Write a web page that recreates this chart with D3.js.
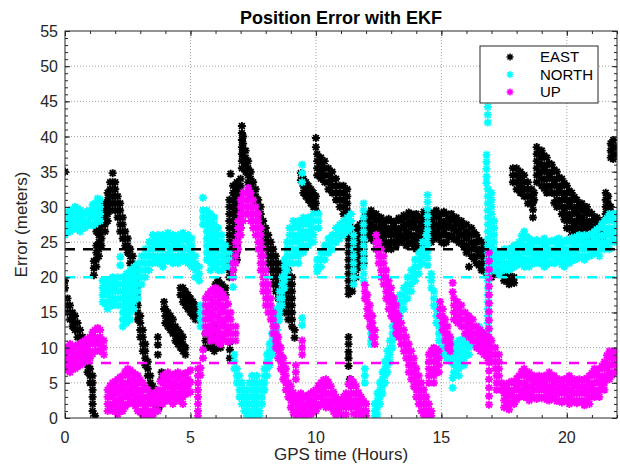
<!DOCTYPE html>
<html>
<head>
<meta charset="utf-8">
<script src="https://cdn.jsdelivr.net/npm/d3@7"></script>
<style>
  html, body { margin: 0; padding: 0; background: #ffffff; overflow: hidden; }
  svg { display: block; font-family: "Liberation Sans", Arial, sans-serif; }
</style>
</head>
<body>
<div id="chart"></div>
<script>
// Position error samples.
// Each row is [GPS hour, error, error, ...]: every error value gets one marker.
var eastRows = [
  [0.0, 35], [0.0, 19.5, 18.5], [0.1, 17, 16, 15], [0.2, 16, 15, 14], [0.3, 15, 14, 13],
  [0.4, 14.5, 13.5, 12.5], [0.5, 13.5, 12.5, 11.5], [0.6, 12.5, 11.5, 10.5], [0.7, 11.5, 10.5, 9.5],
  [0.8, 10.5, 9.5, 8.5], [0.9, 8.5, 7.5, 6.5], [1.0, 7, 6, 5], [1.1, 6, 5, 4, 3, 2, 1], [1.2, 0.3],
  [1.15, 20.3, 21.3, 22.3], [1.25, 21.5, 22.5, 23.5, 24.5, 26.5], [1.35, 23, 24, 25, 26, 27],
  [1.45, 24.5, 25.5, 26.5, 27.5], [1.6, 26.5, 27.5, 28.5, 29.5, 30.5], [1.7, 28, 29, 30, 31, 32],
  [1.8, 29.5, 30.5, 31.5, 32.5, 33.5], [1.9, 30.5, 31.5, 32.5, 33.5, 34.8], [2.0, 29.5, 30.5, 31.5, 32.5, 33.5],
  [2.1, 28.5, 29.5, 30.5, 31.5], [2.2, 26.5, 27.5, 28.5, 29.5, 30.5], [2.3, 25.5, 26.5, 27.5, 28.5],
  [2.4, 24.5, 25.5, 26.5], [2.5, 23.5, 24.5, 25.5], [2.6, 22, 23, 24], [2.7, 21, 22, 23],
  [2.8, 19.5, 20.5, 21.5], [2.85, 16.5, 17.5, 18.5], [2.9, 14, 15, 16], [3.0, 11.5, 12.5, 13.5, 14.5],
  [3.1, 9.5, 10.5, 11.5, 12.5], [3.2, 7.5, 8.5, 9.5, 10.5], [3.3, 6, 7, 8], [3.4, 4, 5, 6],
  [3.5, 2.5, 3.5, 4.5], [3.6, 1, 2, 3], [3.7, 11.5, 10.4, 9], [3.75, 1.5], [3.85, 6.5, 5.5], [4.0, 5.5],
  [3.95, 15.5, 16.5], [4.0, 13.5, 14.5, 15.5], [4.1, 13, 14, 15], [4.2, 12.5, 13.5, 14.5], [4.3, 12, 13, 14],
  [4.4, 11, 12, 13], [4.5, 10.5, 11.5, 12.5], [4.6, 10, 11, 12], [4.7, 9.5, 10.5, 11.5], [4.8, 9, 10],
  [4.6, 17.5, 18.5], [4.7, 16.5, 17.5, 18.5], [4.8, 16, 17, 18], [4.9, 15.5, 16.5, 17.5], [5.0, 15, 16, 17],
  [5.1, 14.5, 15.5, 16.5], [5.2, 14, 15, 16], [5.3, 14, 15],
  [5.6, 12, 11, 10], [5.8, 13, 12, 11, 10], [5.95, 13, 12, 11, 10, 9.5], [6.1, 12, 11, 10], [6.2, 11, 10],
  [6.0, 19, 18], [6.1, 19.6, 18.5], [6.25, 19, 18, 17.5], [6.4, 18.5, 17.5], [6.57, 10.8, 9.7, 8.5],
  [6.55, 31, 30, 29, 28, 27, 26, 25, 24, 23, 22, 21, 20], [6.6, 34.7],
  [6.7, 33, 32, 31, 30, 29, 28, 27, 26, 25, 24, 23, 22, 21],
  [6.85, 33.5, 32.5, 31.5, 30.5, 29.5, 28.5, 27.5, 26.5, 25.5, 24.5, 23.5, 22.5],
  [7.0, 34, 33, 32, 31, 30, 29, 28, 27], [7.05, 41.5, 40.5, 39.5, 38.5, 37.5, 36.5, 35.5],
  [7.1, 40, 39, 38, 37], [7.2, 38, 37, 36, 35], [7.3, 36.5, 35.5, 34.5, 33.5], [7.4, 35, 34, 33, 32],
  [7.5, 33.5, 32.5, 31.5], [7.6, 32.5, 31.5, 30.5], [7.7, 31, 30, 29], [7.8, 30, 29, 28],
  [7.9, 28, 27, 26, 25], [8.0, 27, 26, 25, 24], [8.1, 26, 25, 24, 23, 22], [8.2, 25, 24, 23, 22, 21],
  [8.3, 24, 23, 22, 21, 20, 19], [8.4, 23, 22, 21, 20, 19, 18], [8.5, 22, 21, 20, 19, 18, 17],
  [8.6, 21, 20, 19, 18, 17, 16], [8.75, 22, 21, 20, 19, 18, 17, 16, 15], [8.9, 21, 20, 19, 18, 17, 16, 15, 14],
  [9.05, 20, 19, 18, 17, 16, 15, 14, 13], [9.15, 12.5, 11.4],
  [9.4, 34.8, 33.8], [9.5, 34, 33, 32], [9.6, 33.5, 32.5, 31.5], [9.7, 33, 32, 31], [9.8, 32.5, 31.5, 30.5],
  [9.9, 32, 31, 30], [10.0, 31.5, 30.5, 29.5], [10.0, 39.8, 38.5],
  [10.05, 37.5, 36.5, 35.5, 34.5], [10.2, 37, 36, 35, 34], [10.35, 36.5, 35.5, 34.5, 33.5],
  [10.5, 35.5, 34.5, 33.5, 32.5], [10.65, 35, 34, 33, 32], [10.8, 34, 33, 32, 31], [10.95, 33, 32, 31, 30],
  [11.1, 33, 32, 31, 30, 29], [11.25, 32.5, 31.5, 30.5, 29.5, 28.5],
  [11.3, 27.5, 26.5, 25.5, 24.5, 23.5, 22.5, 21.5, 20.5, 19.5, 18.5, 17.6],
  [11.3, 11.5, 10.5, 9.4, 8.5, 7.4], [11.35, 5.5],
  [11.45, 27, 26, 25, 24, 23, 22, 21, 20, 19, 18], [11.6, 27, 26, 25, 24, 23, 22, 21, 20],
  [11.75, 27.5, 26.5, 25.5, 24.5, 23.5, 22.5, 21.5], [11.9, 28, 27, 26, 25, 24, 23, 22],
  [12.0, 29, 28, 27, 26], [12.1, 29, 27.5, 26.2], [12.2, 29.5, 28.5, 27.5, 26.5, 25.5], [12.3, 28.8, 27, 25.2],
  [12.4, 29, 28, 27, 26, 25, 24], [12.5, 28.2, 26.9, 25.4, 24.2], [12.6, 28.5, 27.5, 26.5, 25.5, 24.5],
  [12.7, 27.6, 26.2, 24.8], [12.8, 28, 27, 26, 25, 24], [12.9, 28.3, 26.6, 24.6], [13.0, 28, 27, 26, 25, 24],
  [13.1, 27.7, 26.3, 25.1], [13.2, 28, 27, 26, 25, 24.5], [13.3, 28.4, 26.7, 25.4], [13.4, 28, 27, 26, 25],
  [13.5, 28.8, 27.2, 25.8], [13.6, 28.5, 27.5, 26.5, 25.5, 24.5], [13.7, 29.2, 27.7, 26.1, 24.8],
  [13.8, 29, 28, 27, 26, 25], [13.9, 28.6, 27.3, 25.6, 24.4], [14.0, 29, 28, 27, 26, 25, 24],
  [14.1, 28.1, 26.8, 25.2], [14.2, 28.5, 27.5, 26.5, 25.5, 24.5], [14.3, 29.3, 27.8, 26.2],
  [14.4, 29, 28, 27, 26, 25], [14.5, 28.4, 26.6, 25.4], [14.6, 29, 28, 27, 26, 25], [14.7, 29.2, 27.5, 26.1],
  [14.8, 29.5, 28.5, 27.5, 26.5, 25.5], [14.9, 28.7, 27.2, 25.8], [15.0, 29, 28, 27, 26, 25],
  [15.1, 29.3, 27.6, 26.3, 24.8], [15.2, 29, 28, 27, 26, 25], [15.3, 28.5, 27.4, 25.7], [15.4, 29, 28, 27, 26],
  [15.5, 28.3, 26.9, 25.4], [15.6, 28.5, 27.5, 26.5, 25.5], [15.7, 27.8, 26.3, 24.9], [15.8, 28, 27, 26, 25],
  [15.9, 27.4, 26, 24.3], [16.0, 27.5, 26.5, 25.5, 24.5, 23.5],
  [16.1, 21.5], [16.2, 27, 26, 25, 24, 23], [16.3, 26.4, 24.6, 22.6], [16.4, 26, 25, 24, 23, 22],
  [16.5, 25.3, 23.6, 21.7], [16.6, 25, 24, 23, 22, 21], [16.7, 24.2, 22.8, 21.1],
  [16.8, 24.5, 23.5, 22.5, 21.5, 20.5], [16.9, 23.4, 21.9], [17.0, 24, 23, 22, 21, 20], [17.2, 23, 22, 21, 20.5],
  [17.5, 20.5, 19.5], [17.7, 20.5, 19.5, 19], [17.9, 20, 19.2],
  [17.85, 35.5, 34.5, 33.5], [18.0, 35.5, 34.5, 33.5, 32.5], [18.15, 35, 34, 33, 32],
  [18.3, 34.5, 33.5, 32.5, 31.5], [18.45, 33.5, 32.5, 31.5, 30.5], [18.6, 32.5, 31.5, 30.5], [18.7, 32, 31],
  [18.65, 30.6, 29.6, 28.5],
  [18.8, 38.5, 37.5, 36.5, 35.5, 34.5, 33.5], [18.9, 37.9, 36.2, 34.8], [19.0, 38, 37, 36, 35, 34, 33],
  [19.1, 37.3, 35.6, 33.9, 32.6], [19.2, 37, 36, 35, 34, 33, 32], [19.3, 36.2, 34.6, 32.8],
  [19.4, 36, 35, 34, 33, 32], [19.5, 35.3, 33.7, 31.9, 30.6], [19.6, 35, 34, 33, 32, 31, 30],
  [19.7, 34.2, 32.6, 30.8], [19.8, 34, 33, 32, 31, 30, 29], [19.9, 33.4, 31.7, 29.8, 28.2],
  [20.0, 33, 32, 31, 30, 29, 28, 27], [20.1, 32.3, 30.6, 28.6, 26.9], [20.2, 32, 31, 30, 29, 28, 27, 26],
  [20.3, 31.4, 29.7, 27.6, 26.2], [20.4, 31, 30, 29, 28, 27, 26], [20.5, 30.2, 28.4, 26.7, 25.4],
  [20.6, 30.5, 29.5, 28.5, 27.5, 26.5, 25.5], [20.7, 29.6, 27.8, 26.1], [20.8, 30, 29, 28, 27, 26, 25],
  [20.9, 29.3, 27.4, 25.7], [21.0, 29, 28, 27, 26, 25], [21.1, 28.2, 26.6, 25.2],
  [21.2, 28.5, 27.5, 26.5, 25.5], [21.3, 27.6, 26.2], [21.4, 28, 27, 26, 25.5],
  [21.55, 32, 31, 30, 29], [21.65, 31.5, 30.5, 29.5, 28.5], [21.75, 30, 29],
  [21.75, 39, 38, 37], [21.85, 39.5, 38.5, 37.5, 36.8], [21.95, 38.5, 37.5]
];

var northRows = [
  [0.0, 29, 28, 27, 26], [0.1, 29.3, 27.6, 26.4], [0.2, 29.5, 28.5, 27.5, 26.5], [0.3, 29.6, 28, 26.8],
  [0.4, 30, 29, 28, 27], [0.5, 29.8, 28.3, 26.9], [0.6, 29.5, 28.5, 27.5, 26.5], [0.7, 29.2, 27.6],
  [0.8, 29, 28, 27], [0.9, 29.4, 27.8], [1.0, 29.5, 28.5, 27.5], [1.1, 30.3, 28.8, 27.4],
  [1.2, 30.5, 29.5, 28.5, 27.5], [1.3, 31.2, 29.6, 28.2], [1.4, 31, 30, 29, 28],
  [1.5, 19.5, 18.5, 17.5, 16.5], [1.6, 19.2, 17.9, 16.2], [1.7, 19.5, 18.5, 17.5, 16.5, 15.5],
  [1.8, 19.7, 18.2, 16.6], [1.9, 20, 19, 18, 17, 16], [2.0, 19.6, 18.3, 16.8],
  [2.1, 20, 19, 18, 17, 16], [2.2, 22.9, 21.7], [2.3, 20, 19, 18, 17, 16, 15, 14, 13],
  [2.45, 20.5, 19.5, 18.5, 17.5, 16.5, 15.5, 14.5, 13.5], [2.6, 21, 20, 19, 18, 17, 16, 15, 14],
  [2.75, 21.5, 20.5, 19.5, 18.5, 17.5, 16.5, 15.5], [2.9, 22, 21, 20, 19, 18, 17],
  [3.05, 23, 22, 21, 20, 19], [3.2, 24, 23, 22, 21, 20], [3.35, 25, 24, 23, 22, 21],
  [3.5, 26, 25, 24, 23, 22], [3.6, 25.6, 24.4, 22.7], [3.7, 26, 25, 24, 23, 22], [3.8, 25.7, 24.2, 22.6],
  [3.9, 26, 25, 24, 23, 22, 21.5], [4.0, 25.8, 24.6, 22.9], [4.1, 26.3, 25.3, 24.3, 23.3, 22.3],
  [4.2, 25.6, 24, 22.6], [4.3, 26, 25, 24, 23, 22], [4.4, 25.7, 24.4, 22.8], [4.5, 26, 25, 24, 23, 22],
  [4.6, 25.8, 24.3, 22.7], [4.7, 26.3, 25.3, 24.3, 23.3, 22.3], [4.8, 25.5, 24.1, 22.5],
  [4.9, 26, 25, 24, 23, 22], [5.05, 25.5, 24.5, 23.5, 22.5, 21.5],
  [5.2, 23, 22, 21, 20], [5.35, 21.5, 20.5, 19.5], [5.4, 16, 15, 14, 13],
  [5.5, 31.3], [5.5, 29.5, 28.5, 27.5], [5.65, 29.5, 28.5, 27.5, 26.5, 25.5, 24.5, 23.5, 22.5],
  [5.8, 29, 28, 27, 26, 25, 24, 23, 22, 21], [5.95, 28.5, 27.5, 26.5, 25.5, 24.5, 23.5, 22.5, 21.5],
  [6.1, 27, 26, 25, 24, 23, 22, 21], [6.25, 26, 25, 24, 23, 22, 21], [6.4, 24.5, 23.5, 22.5, 21.5],
  [6.55, 23.5, 22.5, 21.5], [6.7, 20, 18.6],
  [6.75, 9, 8, 7], [6.85, 7, 6, 5], [6.95, 6, 5, 4, 3], [7.05, 5, 4, 3, 2], [7.15, 4, 3, 2, 1],
  [7.25, 3, 2, 1, 0.3], [7.35, 5, 4, 3, 2, 1, 0.3], [7.45, 6, 5, 4, 3, 2, 1], [7.55, 5, 4, 3, 2, 1, 0.3],
  [7.65, 6, 5, 4, 3, 2, 1], [7.75, 5, 4, 3, 2, 1, 0.3], [7.85, 5, 4, 3, 2],
  [7.95, 7, 6, 5, 4], [8.05, 9, 8, 7, 6], [8.15, 10.5, 9.5, 8.5, 7.5], [8.25, 12, 11, 10, 9],
  [8.35, 13.5, 12.5, 11.5, 10.5], [8.45, 15.5, 14.5, 13.5, 12.5, 11.5], [8.55, 18, 17, 16, 15, 14],
  [8.65, 20, 19, 18, 17, 16], [8.75, 22.5, 21.5, 20.5, 19.5, 18.5], [8.85, 25, 24, 23, 22, 21],
  [8.95, 27, 26, 25, 24, 23, 22], [9.1, 28, 27, 26, 25, 24, 23, 22], [9.2, 27.4, 25.6, 23.6],
  [9.3, 28, 27, 26, 25, 24, 23, 22], [9.4, 27.8, 26.1, 24.3],
  [9.5, 28.5, 27.5, 26.5, 25.5, 24.5, 23.5], [9.6, 27.9, 26.1, 24.2], [9.7, 28.5, 27.5, 26.5, 25.5, 24.5],
  [9.8, 28.2, 26.4, 25.1], [9.9, 29, 28, 27, 26, 25],
  [10.1, 29, 28, 27], [9.45, 36, 34.8, 33.5], [9.45, 14.2, 13.2],
  [10.05, 22.5, 21.5, 20.8], [10.2, 23.5, 22.5, 21.5], [10.35, 24.5, 23.5, 22.5], [10.5, 25.5, 24.5, 23.5],
  [10.65, 26, 25, 24], [10.8, 27, 26, 25], [10.95, 27.5, 26.5, 25.5], [11.1, 28, 27, 26],
  [11.25, 28.5, 27.5, 26.5], [11.4, 29, 28, 27], [11.5, 26, 25, 24, 23, 22, 21, 20, 19],
  [11.9, 30.5, 29.5, 28.5, 27.5, 26.5, 25.5, 24.5, 23.5, 22.5, 21.5, 20.5, 19.5],
  [11.95, 7, 6, 5], [12.2, 13, 12, 11, 10.5],
  [12.35, 2, 1, 0.3], [12.45, 3.5, 2.5, 1.5, 0.5], [12.55, 5, 4, 3, 2], [12.65, 6.5, 5.5, 4.5, 3.5],
  [12.75, 8, 7, 6, 5], [12.85, 9.5, 8.5, 7.5, 6.5], [12.95, 11, 10, 9, 8], [13.05, 13, 12, 11, 10],
  [13.15, 15, 14, 13, 12], [13.25, 16.5, 15.5, 14.5, 13.5], [13.35, 17.5, 16.5, 15.5, 14.5],
  [13.5, 18.5, 17.5, 16.5, 15.5], [13.65, 20, 19, 18, 17], [13.8, 21, 20, 19, 18],
  [13.95, 22.5, 21.5, 20.5, 19.5], [14.1, 23.5, 22.5, 21.5, 20.5], [14.25, 25, 24, 23, 22],
  [14.4, 26, 25, 24, 23],
  [14.45, 31.7, 30.7, 29.7, 28.7, 27.7, 26.7, 25.7, 24.7, 23.7, 22.7, 21.7],
  [14.6, 20.5, 19.5, 18.5], [14.7, 18, 17, 16], [14.8, 15.5, 14.5, 13.5], [14.9, 13, 12, 11],
  [15.0, 11, 10, 9], [15.2, 11.5, 10.5, 9.5, 8.5], [15.4, 11, 10, 9, 8], [15.45, 5.7, 4.3],
  [15.5, 10.5, 9.5, 8.5, 7.5, 6.5], [15.7, 11, 10, 9, 8, 7, 6], [15.9, 11.5, 10.5, 9.5, 8.5, 7.5],
  [16.1, 12, 11, 10, 9], [16.3, 12.5, 11.5, 10.5], [16.5, 13, 12, 11],
  [16.85, 44.2, 43.1, 42.0], [16.8, 37.4, 36.4, 35.4, 34.3, 33.4],
  [16.85, 32.5, 31.5, 30.5, 29.5, 28.5, 27.5, 26.5, 25.5, 24.5, 23.5, 22.5, 21.5, 20.5, 19.5, 18.5, 17.5,
    16.5, 15.5, 14.5, 13.5, 12.5, 11.5],
  [17.0, 32, 31, 30, 29, 28, 27, 26, 25, 24, 23, 22, 21], [17.1, 28, 27, 26, 25, 24, 23, 22, 21],
  [17.3, 23.5, 22.5, 21.5, 20.5], [17.4, 23.2, 21.6], [17.5, 24, 23, 22, 21], [17.6, 23.6, 21.8],
  [17.7, 24, 23, 22, 21], [17.8, 24.2, 22.7, 21.3], [17.9, 24.5, 23.5, 22.5, 21.5], [18.0, 24.6, 23.1, 21.7],
  [18.1, 25, 24, 23, 22], [18.2, 25.9, 24.2, 22.4], [18.3, 26.5, 25.5, 24.5, 23.5, 22.5, 21.5],
  [18.4, 25.8, 24.1, 22.3], [18.5, 25.5, 24.5, 23.5, 22.5, 21.5], [18.6, 25.2, 23.6, 22.2],
  [18.7, 25, 24, 23, 22], [18.8, 25.3, 23.5, 22.4], [18.9, 25, 24, 23, 22], [19.0, 25.1, 23.6, 22],
  [19.1, 25.5, 24.5, 23.5, 22.5, 21.5], [19.2, 24.8, 23.2, 21.8], [19.3, 25, 24, 23, 22],
  [19.4, 25.2, 23.4, 22.1], [19.5, 25, 24, 23, 22], [19.6, 25.4, 23.7, 22.3], [19.7, 25.5, 24.5, 23.5, 22.5],
  [19.8, 24.9, 23.3, 21.8], [19.9, 25, 24, 23, 22, 21.5], [20.0, 25.3, 23.6, 22.2], [20.1, 25, 24, 23, 22],
  [20.2, 25.6, 23.9, 22.4], [20.3, 25.5, 24.5, 23.5, 22.5], [20.4, 25.8, 24.2, 22.6],
  [20.5, 26, 25, 24, 23], [20.6, 25.7, 24.1, 22.8], [20.7, 26, 25, 24, 23, 22.5], [20.8, 25.8, 24.3, 22.9],
  [20.9, 26, 25, 24, 23], [21.0, 26.2, 24.6, 23.2], [21.1, 26.5, 25.5, 24.5, 23.5], [21.2, 26.8, 25.1, 23.6],
  [21.3, 27, 26, 25, 24, 23], [21.4, 27.6, 25.8, 24.2], [21.5, 28, 27, 26, 25, 24], [21.6, 28.4, 26.6, 24.7],
  [21.7, 29, 28, 27, 26, 25, 24], [21.8, 28.6, 26.8, 25.2], [21.9, 29, 28, 27, 26, 25]
];

var upRows = [
  [0.0, 10, 9, 8, 7], [0.1, 9.6, 8.2, 6.8], [0.2, 10.5, 9.5, 8.5, 7.5, 6.5], [0.3, 10.2, 8.7, 7.2],
  [0.4, 10, 9, 8, 7], [0.5, 10.4, 8.9, 7.3], [0.6, 10.5, 9.5, 8.5, 7.5], [0.7, 10.8, 9.2, 7.8],
  [0.8, 11, 10, 9, 8], [0.9, 11.3, 9.7, 8.2], [1.0, 11.5, 10.5, 9.5, 8.5], [1.1, 12.2, 10.8, 9.1],
  [1.2, 12.5, 11.5, 10.5, 9.5], [1.3, 12.8, 11.1, 9.6], [1.4, 12.5, 11.5, 10.5, 9.5],
  [1.55, 11, 10, 9],
  [1.7, 4, 3, 2, 1], [1.8, 4.6, 3.2, 1.6], [1.9, 5, 4, 3, 2, 1], [2.0, 5.2, 3.6, 2.1],
  [2.1, 5.5, 4.5, 3.5, 2.5, 1.5, 0.5], [2.2, 5.8, 4.2, 2.6, 1.1], [2.3, 6, 5, 4, 3, 2, 1],
  [2.4, 6.6, 4.8, 3.2, 1.6], [2.5, 7, 6, 5, 4, 3, 2], [2.6, 6.8, 5.2, 3.8, 2.2], [2.7, 6.5, 5.5, 4.5, 3.5, 2.5],
  [2.8, 6.2, 4.6, 3.1, 1.7], [2.9, 6, 5, 4, 3, 2, 1], [3.0, 5.4, 3.8, 2.4, 0.8], [3.1, 5, 4, 3, 2, 1, 0.3],
  [3.2, 4.4, 2.8, 1.2], [3.3, 4, 3, 2, 1, 0.3], [3.4, 3.4, 2.2, 0.8], [3.5, 3, 2, 1, 0.3],
  [3.6, 3.6, 2.4, 1.1], [3.7, 4, 3, 2, 1], [3.8, 5.2, 3.6, 2.2], [3.9, 6, 5, 4, 3, 2],
  [4.0, 6.2, 4.8, 3.2], [4.1, 6.5, 5.5, 4.5, 3.5, 2.5], [4.2, 6.1, 4.6, 3.1], [4.3, 6, 5, 4, 3, 2],
  [4.4, 6.3, 4.7, 3.3], [4.5, 6.5, 5.5, 4.5, 3.5, 2.5], [4.6, 6.2, 4.4, 2.9], [4.7, 6, 5, 4, 3, 2],
  [4.8, 6.4, 4.9, 3.4], [4.9, 6.5, 5.5, 4.5, 3.5], [5.0, 6.8, 5.1, 3.7],
  [5.3, 7, 6, 5, 4, 3, 2, 1, 0.3], [5.4, 7.1, 6.1], [5.5, 9.7, 8.5],
  [5.6, 17, 16, 15, 14, 13, 12], [5.7, 17.6, 15.8, 14.2, 12.4], [5.8, 18, 17, 16, 15, 14, 13, 12, 11],
  [5.9, 18.3, 16.4, 14.6, 12.7, 11.2], [6.0, 18.5, 17.5, 16.5, 15.5, 14.5, 13.5, 12.5, 11.5],
  [6.1, 18.2, 16.3, 14.3, 12.2, 10.7], [6.2, 18, 17, 16, 15, 14, 13, 12, 11, 10.5],
  [6.3, 17.6, 15.7, 13.6, 11.6], [6.4, 17, 16, 15, 14, 13, 12, 11], [6.5, 16.2, 14.4, 12.5, 10.8],
  [6.6, 15, 14, 13, 12, 11], [6.8, 13, 12, 11],
  [6.7, 20, 21, 22], [6.8, 22, 23, 24, 25], [6.9, 24, 25, 26, 27, 28], [7.0, 26, 27, 28, 29, 30, 31],
  [7.1, 28, 29, 30, 31, 32], [7.2, 29, 30, 31, 32], [7.3, 29, 30, 31, 32, 32.7], [7.4, 28, 29, 30, 31, 32],
  [7.5, 27, 28, 29, 30, 31], [7.6, 26, 27, 28, 29, 30], [7.7, 24, 25, 26, 27, 28, 29],
  [7.8, 21, 22, 23, 24, 25, 26, 27], [7.9, 18, 19, 20, 21, 22, 23, 24], [8.0, 16, 17, 18, 19, 20, 21],
  [8.1, 15, 16, 17, 18, 19], [8.2, 14, 15, 16, 17], [8.3, 12, 13, 14, 15], [8.4, 10, 11, 12, 13],
  [8.5, 8.5, 9.5, 10.5, 11.5], [8.6, 7, 8, 9, 10], [8.7, 5.5, 6.5, 7.5, 8.5], [8.8, 4, 5, 6, 7],
  [8.9, 3, 4, 5], [9.0, 1.5, 2.5, 3.5, 4.5], [9.45, 11, 10, 9], [9.2, 7.5, 6.5, 5.5],
  [9.1, 3.6, 2.2, 0.8], [9.2, 3, 2, 1, 0.3], [9.3, 3.2, 1.8, 0.6], [9.4, 3.5, 2.5, 1.5, 0.5],
  [9.5, 3.1, 1.6, 0.4], [9.6, 3, 2, 1, 0.3], [9.7, 3.3, 1.9, 0.6], [9.8, 3.5, 2.5, 1.5, 0.5],
  [9.9, 3.8, 2.3, 0.9], [10.0, 4, 3, 2, 1], [10.1, 4.6, 3.1, 1.6], [10.2, 5, 4, 3, 2],
  [10.3, 5.4, 3.8, 2.2], [10.4, 5.5, 4.5, 3.5, 2.5, 1.5], [10.5, 5.1, 3.4, 1.9], [10.6, 4.5, 3.5, 2.5, 1.5],
  [10.7, 3.7, 2.3, 0.9], [10.8, 3, 2, 1, 0.3], [10.9, 2.6, 1.2], [11.0, 2.5, 1.5, 0.5],
  [11.1, 3, 1.8, 0.5], [11.2, 3.5, 2.5, 1.5, 0.5], [11.3, 4.8, 3.2, 1.8], [11.4, 5.5, 4.5, 3.5, 2.5, 1.5],
  [11.5, 5.1, 3.4, 1.9, 0.6], [11.6, 4.5, 3.5, 2.5, 1.5, 0.5], [11.7, 3.6, 2.2, 0.8], [11.8, 3, 2, 1, 0.3],
  [11.9, 2.4, 1.1], [12.0, 2, 1, 0.3],
  [11.95, 18.9, 18, 17], [12.05, 17.5, 16.5, 15.5, 14.5], [12.15, 16, 15, 14, 13],
  [12.25, 14.5, 13.5, 12.5, 11.5], [12.35, 12.5, 11.5, 10.5],
  [12.4, 26, 25, 24], [12.5, 25, 24, 23, 22], [12.6, 24, 23, 22, 21, 20], [12.7, 23, 22, 21, 20, 19],
  [12.8, 21, 20, 19, 18, 17], [12.9, 19.5, 18.5, 17.5, 16.5, 15.5], [13.0, 18.5, 17.5, 16.5, 15.5, 14.5],
  [13.1, 17, 16, 15, 14], [13.2, 16, 15, 14, 13, 12], [13.3, 14.5, 13.5, 12.5, 11.5],
  [13.4, 13.5, 12.5, 11.5, 10.5], [13.5, 12.5, 11.5, 10.5, 9.5], [13.6, 11.5, 10.5, 9.5, 8.5],
  [13.7, 10.5, 9.5, 8.5, 7.5, 6.5], [13.8, 9.5, 8.5, 7.5, 6.5, 5.5], [13.9, 8.5, 7.5, 6.5, 5.5, 4.5],
  [14.0, 7, 6, 5, 4, 3], [14.1, 6, 5, 4, 3, 2], [14.2, 5, 4, 3, 2, 1], [14.3, 4, 3, 2, 1, 0.3],
  [14.4, 3, 2, 1, 0.3], [14.5, 2, 1, 0.3], [14.6, 1, 0.3],
  [14.5, 9, 8, 7, 6, 5], [14.6, 9.6, 8.1, 6.4], [14.7, 10, 9, 8, 7, 6, 5], [14.8, 9.8, 8.2, 6.7],
  [14.9, 9.5, 8.5, 7.5, 6.5],
  [14.95, 16.5, 15.5, 14.5], [15.05, 15.5, 14.5, 13.5, 12.5], [15.15, 14, 13, 12, 11], [15.25, 13, 12, 11, 10],
  [15.35, 11.5, 10.5, 9.5], [15.45, 19.2, 17.9],
  [15.5, 17, 16, 15, 14], [15.65, 16.5, 15.5, 14.5, 13.5], [15.8, 16, 15, 14, 13], [15.95, 15, 14, 13, 12],
  [16.1, 14.5, 13.5, 12.5, 11.5], [16.25, 14, 13, 12, 11], [16.4, 13, 12, 11, 10], [16.55, 12.5, 11.5, 10.5, 9.5],
  [16.7, 12, 11, 10, 9], [16.85, 11.5, 10.5, 9.5, 8.5], [17.0, 11, 10, 9, 8], [17.15, 10, 9, 8, 7],
  [17.3, 9, 8, 7, 6], [17.2, 6, 5, 4], [17.4, 5, 4],
  [16.9, 23.5, 22.3, 21.1, 19.9, 18.7, 17.5, 16.3, 15.1, 13.9, 12.7, 11.5, 10.3, 9.1, 7.9, 6.7, 5.5, 4.3, 3.1, 1.9],
  [17.5, 4.5, 3.5, 2.5, 1.5], [17.6, 4.8, 3.1, 1.8], [17.7, 5, 4, 3, 2, 1.2], [17.8, 5.2, 3.6, 2.2],
  [17.9, 5, 4, 3, 2], [18.0, 5.6, 4.2, 2.6], [18.1, 6, 5, 4, 3], [18.2, 6.6, 4.8, 3.3],
  [18.3, 7, 6, 5, 4, 3], [18.4, 6.2, 4.4, 2.9], [18.5, 6.5, 5.5, 4.5, 3.5, 2.5], [18.6, 5.8, 4.3, 2.8],
  [18.7, 6, 5, 4, 3], [18.8, 5.6, 4.1, 2.7], [18.9, 6, 5, 4, 3], [19.0, 5.7, 4.4, 2.8],
  [19.1, 6, 5, 4, 3], [19.2, 5.9, 4.2, 2.6], [19.3, 6.5, 5.5, 4.5, 3.5, 2.5], [19.4, 5.8, 4.1, 2.7],
  [19.5, 6, 5, 4, 3], [19.6, 5.4, 3.8, 2.4], [19.7, 5.5, 4.5, 3.5, 2.5], [19.8, 5.2, 3.7, 2.2],
  [19.9, 5.5, 4.5, 3.5, 2.5], [20.0, 5.6, 4, 2.5], [20.1, 6, 5, 4, 3, 2], [20.2, 5.4, 3.8, 2.3],
  [20.3, 5.5, 4.5, 3.5, 2.5], [20.4, 5.1, 3.6, 2.1], [20.5, 5.5, 4.5, 3.5, 2.5], [20.6, 5.3, 3.7, 2.2],
  [20.7, 5.5, 4.5, 3.5, 2.5, 1.8], [20.8, 5.6, 3.9, 2.4], [20.9, 6, 5, 4, 3, 2], [21.0, 6.4, 4.7, 3.1],
  [21.1, 7, 6, 5, 4, 3], [21.2, 6.7, 5.1, 3.5], [21.3, 7, 6, 5, 4, 3], [21.4, 7.4, 5.7, 4.2],
  [21.5, 8, 7, 6, 5, 4], [21.6, 8.9, 7.2, 5.6], [21.7, 9.5, 8.5, 7.5, 6.5, 5.5], [21.8, 9.2, 7.6, 6.1],
  [21.9, 9.5, 8.5, 7.5, 6.5]
];

var seriesNames = ['EAST', 'NORTH', 'UP'];
var seriesColors = ['#000000', '#00ffff', '#ff00ff'];
var meanErrors = [24, 20, 7.8];
var xTicks = [0, 5, 10, 15, 20];
var yTicks = [0, 5, 10, 15, 20, 25, 30, 35, 40, 45, 50, 55];

// Canvas and plot box
var width = 620, height = 466;
var margin = {top: 31, right: 3, bottom: 48, left: 65};
var innerWidth = width - margin.left - margin.right;
var innerHeight = height - margin.top - margin.bottom;
var axisColor = '#262626';

var svg = d3.select('#chart').append('svg')
  .attr('width', width)
  .attr('height', height)
  .attr('viewBox', '0 0 ' + width + ' ' + height);

var g = svg.append('g')
  .attr('transform', 'translate(' + margin.left + ',' + margin.top + ')');

var x = d3.scaleLinear().domain([0, 22]).range([0, innerWidth]);
var y = d3.scaleLinear().domain([0, 55]).range([innerHeight, 0]);

// Dotted grid at the labelled ticks
g.append('g').selectAll('line')
  .data(xTicks.filter(function(d) { return d > 0; }))
  .enter().append('line')
    .attr('x1', function(d) { return x(d); })
    .attr('x2', function(d) { return x(d); })
    .attr('y1', 0).attr('y2', innerHeight)
    .style('stroke', '#a6a6a6').style('stroke-dasharray', '1,2');

g.append('g').selectAll('line')
  .data(yTicks.filter(function(d) { return d > 0 && d < 55; }))
  .enter().append('line')
    .attr('x1', 0).attr('x2', innerWidth)
    .attr('y1', function(d) { return y(d); })
    .attr('y2', function(d) { return y(d); })
    .style('stroke', '#a6a6a6').style('stroke-dasharray', '1,2');

svg.append('clipPath').attr('id', 'plotClip')
  .append('rect').attr('width', innerWidth).attr('height', innerHeight);

// Asterisk marker, like MATLAB's '*'
var star = 'M-4,0H4M0,-4V4M-2.9,-2.9L2.9,2.9M-2.9,2.9L2.9,-2.9';

function toPoints(rows) {
  var pts = [];
  rows.forEach(function(r) {
    r.slice(1).forEach(function(v) { pts.push({t: r[0], v: v}); });
  });
  return pts;
}

var allSeries = [eastRows, northRows, upRows];
var marks = g.append('g').attr('clip-path', 'url(#plotClip)');

allSeries.forEach(function(rows, i) {
  marks.append('g')
    .attr('class', 'series')
    .selectAll('path')
    .data(toPoints(rows))
    .enter().append('path')
      .attr('d', star)
      .attr('transform', function(d) { return 'translate(' + x(d.t) + ',' + y(d.v) + ')'; })
      .style('fill', 'none')
      .style('stroke', seriesColors[i])
      .style('stroke-width', 1.9);
});

// Mean error lines
g.append('g').selectAll('line')
  .data(meanErrors)
  .enter().append('line')
    .attr('x1', x(0)).attr('x2', x(22))
    .attr('y1', function(d) { return y(d); })
    .attr('y2', function(d) { return y(d); })
    .style('stroke', function(d, i) { return seriesColors[i]; })
    .style('stroke-width', 2.5)
    .style('stroke-dasharray', '10,8');

// Axes: tick marks only (inward, all four sides), labels drawn separately
function tickMarks(sel) {
  sel.select('.domain').remove();
  sel.selectAll('text').remove();
  sel.selectAll('line').style('stroke', axisColor);
}

var minorX = d3.range(0, 23);
var minorY = d3.range(0, 56);

g.append('g').attr('transform', 'translate(0,' + innerHeight + ')')
  .call(d3.axisBottom(x).tickValues(minorX).tickSize(-3)).call(tickMarks);
g.append('g')
  .call(d3.axisTop(x).tickValues(minorX).tickSize(-3)).call(tickMarks);
g.append('g')
  .call(d3.axisLeft(y).tickValues(minorY).tickSize(-3)).call(tickMarks);
g.append('g').attr('transform', 'translate(' + innerWidth + ',0)')
  .call(d3.axisRight(y).tickValues(minorY).tickSize(-3)).call(tickMarks);

g.append('g').attr('transform', 'translate(0,' + innerHeight + ')')
  .call(d3.axisBottom(x).tickValues(xTicks).tickSize(-5)).call(tickMarks);
g.append('g')
  .call(d3.axisTop(x).tickValues(xTicks).tickSize(-5)).call(tickMarks);
g.append('g')
  .call(d3.axisLeft(y).tickValues(yTicks).tickSize(-5)).call(tickMarks);
g.append('g').attr('transform', 'translate(' + innerWidth + ',0)')
  .call(d3.axisRight(y).tickValues(yTicks).tickSize(-5)).call(tickMarks);

g.append('rect')
  .attr('width', innerWidth).attr('height', innerHeight)
  .style('fill', 'none').style('stroke', axisColor).style('stroke-width', 1);

// Tick labels
g.append('g').selectAll('text')
  .data(xTicks)
  .enter().append('text')
    .attr('x', function(d) { return x(d); })
    .attr('y', innerHeight + 25)
    .attr('text-anchor', 'middle')
    .style('font-size', '16px').style('fill', axisColor)
    .text(function(d) { return d; });

g.append('g').selectAll('text')
  .data(yTicks)
  .enter().append('text')
    .attr('x', -7)
    .attr('y', function(d) { return y(d) + 6; })
    .attr('text-anchor', 'end')
    .style('font-size', '16px').style('fill', axisColor)
    .text(function(d) { return d; });

// Title and axis labels
svg.append('text')
  .attr('x', margin.left + innerWidth / 2).attr('y', 24)
  .attr('text-anchor', 'middle')
  .style('font-size', '18px').style('font-weight', 'bold').style('fill', '#000000')
  .text('Position Error with EKF');

svg.append('text')
  .attr('x', margin.left + innerWidth / 2).attr('y', 460)
  .attr('text-anchor', 'middle')
  .style('font-size', '17px').style('fill', axisColor)
  .text('GPS time (Hours)');

svg.append('text')
  .attr('transform', 'translate(27,' + (margin.top + innerHeight / 2) + ') rotate(-90)')
  .attr('text-anchor', 'middle')
  .style('font-size', '17px').style('fill', axisColor)
  .text('Error (meters)');

// Legend box, top right
var legend = svg.append('g').attr('transform', 'translate(480,46)');
legend.append('rect')
  .attr('width', 118).attr('height', 57)
  .style('fill', '#ffffff').style('stroke', axisColor).style('stroke-width', 1);

var item = legend.selectAll('.item')
  .data(seriesNames)
  .enter().append('g')
    .attr('class', 'item')
    .attr('transform', function(d, i) { return 'translate(0,' + (11 + i * 17.5) + ')'; });

item.append('path')
  .attr('d', 'M-3.5,0H3.5M0,-3.5V3.5M-2.5,-2.5L2.5,2.5M-2.5,2.5L2.5,-2.5')
  .attr('transform', 'translate(30,0)')
  .style('fill', 'none')
  .style('stroke', function(d, i) { return seriesColors[i]; })
  .style('stroke-width', 1.5);

item.append('text')
  .attr('x', 60).attr('y', 5.3)
  .style('font-size', '15px').style('fill', '#000000')
  .text(function(d) { return d; });
</script>
</body>
</html>
